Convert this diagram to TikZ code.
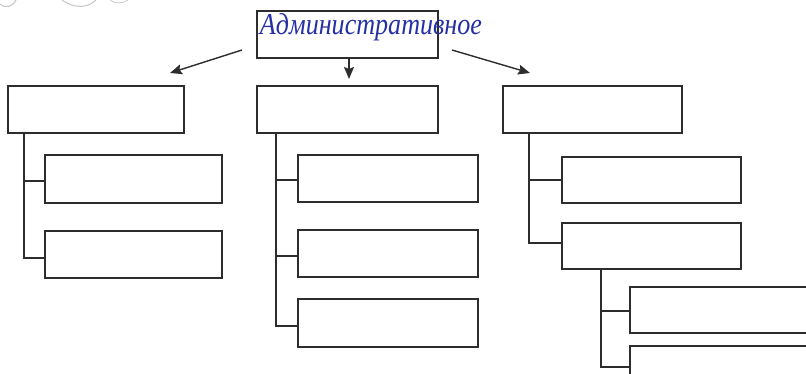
\documentclass[tikz,border=0pt]{standalone}
\usepackage{fontspec}
\setmainfont{Liberation Serif}
\usetikzlibrary{arrows.meta}
\definecolor{inkblue}{RGB}{38,48,165}
\definecolor{linegray}{RGB}{45,45,45}
\tikzset{
  box/.style={draw=linegray, line width=1.6pt, rectangle, inner sep=0pt, anchor=north west, minimum width=#1},
  box/.default=177pt,
  conn/.style={draw=linegray, line width=1.6pt},
  arr/.style={draw=linegray, line width=1.4pt, -{Stealth[length=12pt,width=10pt,inset=2pt]}},
}
\begin{document}
\begin{tikzpicture}[x=1pt,y=-1pt]
\useasboundingbox (0,0) rectangle (806,374);
\clip (0,0) rectangle (806,374);
\fill[white] (0,0) rectangle (806,374);
% faint scribble
\draw[gray!45, line width=1pt] (0,4) .. controls (6,9) and (12,7) .. (16,0);
\draw[gray!45, line width=1pt] (62,0) .. controls (75,9) and (88,8) .. (96,0);
\draw[gray!40, line width=0.8pt] (110,0) .. controls (115,4) and (122,4) .. (128,0);
% top box
\node[box=181pt, minimum height=47pt] (T) at (256,10) {};
\node[text=inkblue, inner sep=0pt] (Tt) at (371,27) {\resizebox{222pt}{21pt}{\itshape Административное}};
% level 1
\node[box=176pt, minimum height=47pt] (L) at (7,85) {};
\node[box=181pt, minimum height=47pt] (M) at (256,85) {};
\node[box=179pt, minimum height=47pt] (R) at (502,85) {};
% arrows
\coordinate (aL) at (242,50);
\coordinate (aLt) at (170,73);
\coordinate (aR) at (452,50);
\coordinate (aRt) at (530,73);
\coordinate (aM) at (349,57);
\coordinate (aMt) at (349,79);
\draw[arr] (aL) -- (aLt);
\draw[arr] (aR) -- (aRt);
\draw[arr] (aM) -- (aMt);
% left children
\node[box=177pt, minimum height=48pt] (L1) at (44,154) {};
\node[box=177pt, minimum height=47pt] (L2) at (44,230) {};
\coordinate (Lv) at (24,132);
\coordinate (Lc1) at (44,181);
\coordinate (Lc2) at (44,258);
\draw[conn] (Lv) |- (Lc2);
\draw[conn] (Lv |- Lc1) -- (Lc1);
% middle children
\node[box=180pt, minimum height=47pt] (M1) at (297,154) {};
\node[box=180pt, minimum height=47pt] (M2) at (297,229) {};
\node[box=180pt, minimum height=48pt] (M3) at (297,298) {};
\coordinate (Mv) at (276,132);
\coordinate (Mc1) at (297,180);
\coordinate (Mc2) at (297,256);
\coordinate (Mc3) at (297,326);
\draw[conn] (Mv) |- (Mc3);
\draw[conn] (Mv |- Mc1) -- (Mc1);
\draw[conn] (Mv |- Mc2) -- (Mc2);
% right children
\node[box=179pt, minimum height=46pt] (R1) at (561,156) {};
\node[box=179pt, minimum height=46pt] (R2) at (561,222) {};
\coordinate (Rv) at (529,132);
\coordinate (Rc1) at (561,180);
\coordinate (Rc2) at (561,243);
\draw[conn] (Rv) |- (Rc2);
\draw[conn] (Rv |- Rc1) -- (Rc1);
% right grandchildren
\node[box=200pt, minimum height=46pt] (S1) at (629,286) {};
\node[box=200pt, minimum height=47pt] (S2) at (629,345) {};
\coordinate (Sv) at (601,268);
\coordinate (Sc1) at (629,311);
\coordinate (Sc2) at (629,367);
\draw[conn] (Sv) |- (Sc2);
\draw[conn] (Sv |- Sc1) -- (Sc1);
\end{tikzpicture}
\end{document}
